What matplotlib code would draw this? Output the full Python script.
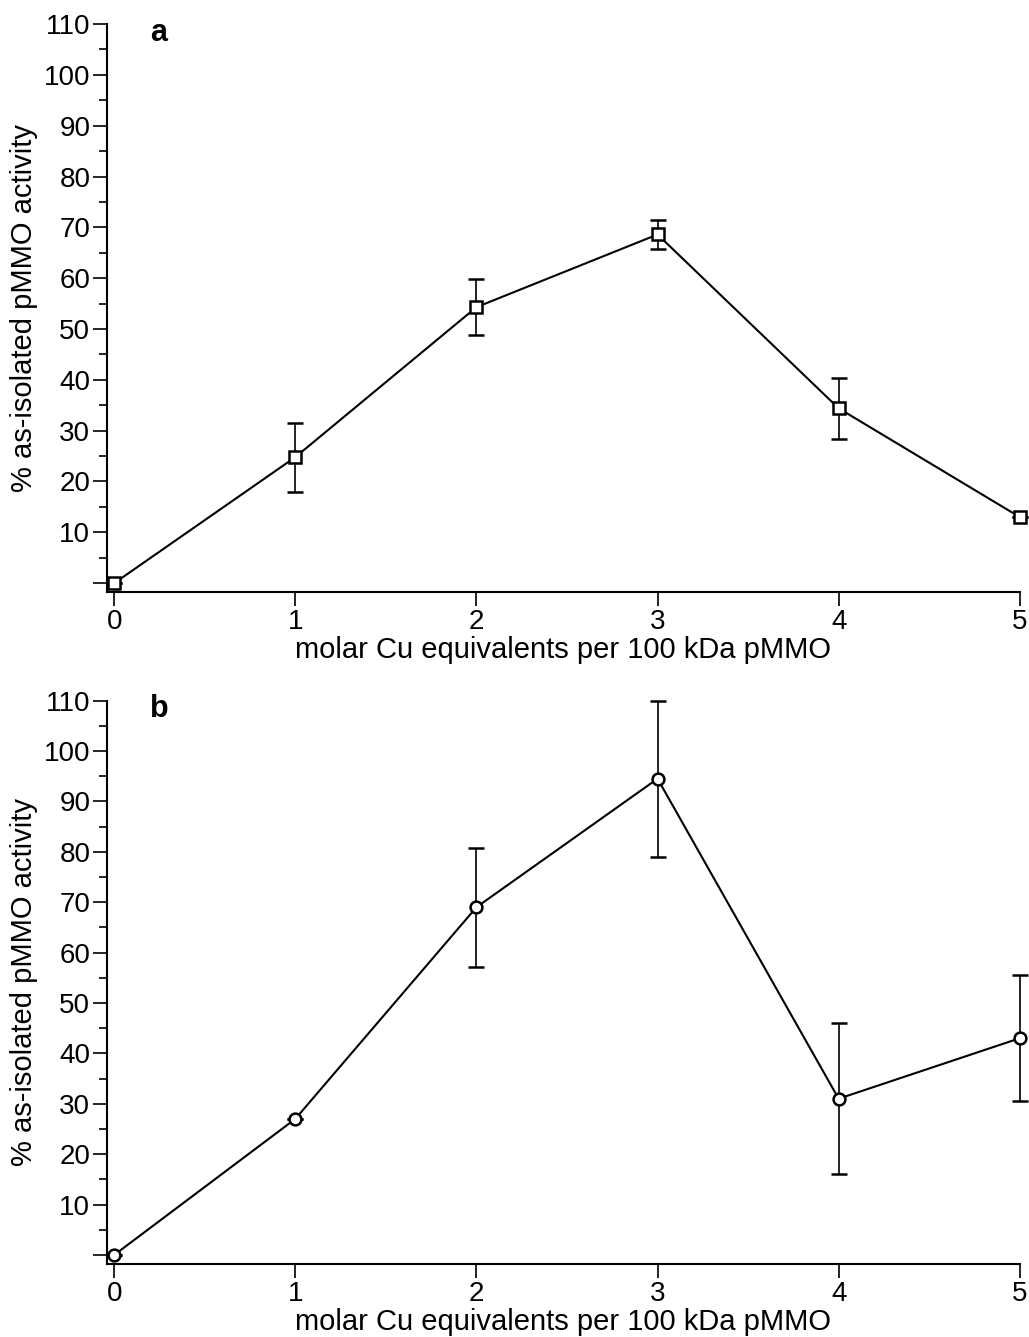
import matplotlib.pyplot as plt
from matplotlib.ticker import MultipleLocator, FixedLocator

plt.rcParams['font.family'] = ['Liberation Sans', 'DejaVu Sans']

# data
cu_eq = [0, 1, 2, 3, 4, 5]
act_a = [0, 24.8, 54.3, 68.6, 34.4, 13.0]
err_a = [0, 6.8, 5.5, 2.8, 6.0, 0]
act_b = [0, 27.0, 69.0, 94.5, 31.0, 43.0]
err_b = [0, 0, 11.8, 15.5, 15.0, 12.5]

fig = plt.figure(figsize=(10.29, 13.37), dpi=100)
ax_a = fig.add_axes([0.104, 0.557, 0.887, 0.425])
ax_b = fig.add_axes([0.104, 0.0546, 0.887, 0.4214])

def style(ax, y, err, marker, letter):
    lines = ax.errorbar(cu_eq, y, yerr=err, color='black', lw=1.5, marker=marker,
                        ms=8.5, mfc='white', mec='black', mew=1.8,
                        capsize=6, elinewidth=1.2, capthick=1.2)
    for art in lines.lines[0:1] + tuple(lines.lines[1]) + tuple(lines.lines[2]):
        art.set_clip_on(False)
    ax.set_xlim(-0.04, 5)
    ax.set_ylim(-1.8, 110)
    for s in ['top', 'right']:
        ax.spines[s].set_visible(False)
    ax.spines['left'].set_linewidth(1.5)
    ax.spines['bottom'].set_linewidth(1.5)
    ax.yaxis.set_major_locator(FixedLocator(range(0, 111, 10)))
    ax.yaxis.set_minor_locator(FixedLocator(range(5, 111, 10)))
    ax.set_yticklabels([''] + [str(v) for v in range(10, 111, 10)])
    ax.xaxis.set_major_locator(MultipleLocator(1))
    ax.tick_params(axis='both', which='major', length=10, width=1.2,
                   labelsize=20, direction='out', pad=2)
    ax.tick_params(axis='y', which='minor', length=6, width=1.2)
    ax.set_xlabel('molar Cu equivalents per 100 kDa pMMO', fontsize=21, labelpad=1)
    ax.set_ylabel('% as-isolated pMMO activity', fontsize=21, labelpad=4)
    ax.text(0.047, 0.985, letter, transform=ax.transAxes, fontsize=22,
            fontweight='bold', va='center', ha='left')

style(ax_a, act_a, err_a, 's', 'a')
style(ax_b, act_b, err_b, 'o', 'b')

fig.savefig('out.png', dpi=100)
